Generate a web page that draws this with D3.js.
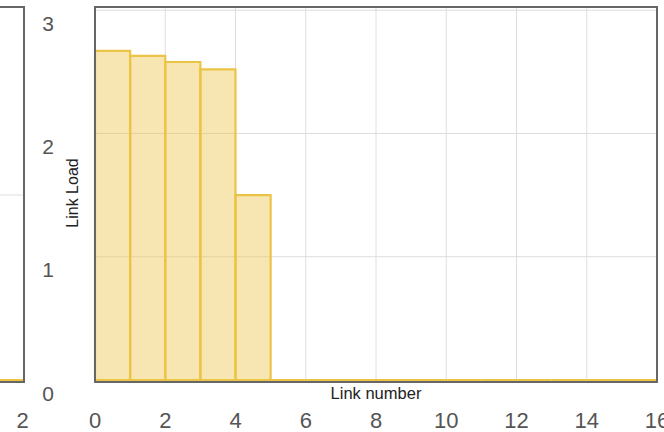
<!DOCTYPE html>
<html>
<head>
<meta charset="utf-8">
<script src="https://cdn.jsdelivr.net/npm/d3@7"></script>
<style>
  html, body { margin: 0; padding: 0; background: #fff; }
  svg { display: block; }
  text { font-family: "Liberation Sans", Arial, sans-serif; }
</style>
</head>
<body>
<svg id="chart" width="664" height="432"></svg>
<script>
// Link load per link (main panel)
const links = d3.range(16);
const loads = [2.67, 2.63, 2.58, 2.52, 1.50, 0, 0, 0, 0, 0, 0, 0, 0, 0, 0, 0];
const xTicks = [0, 2, 4, 6, 8, 10, 12, 14, 16];
const yTicks = [0, 1, 2, 3];

// Neighbouring panel (only its right edge is in view)
const leftLinks = [0, 1];
const leftLoads = [0, 0];
const leftXTicks = [2];
const leftYTicks = [1];

const svg = d3.select("#chart");
const barColor = "#ecc445", frameColor = "#666", gridColor = "#dedede";

function panel(opts) {
  const g = svg.append("g");
  const { x, y, data, cats, xt, yt, showY, labelShift } = opts;
  const [x0, x1] = x.range();

  // grid
  g.selectAll(".gx").data(xt).join("line")
    .attr("x1", d => x(d)).attr("x2", d => x(d))
    .attr("y1", 7).attr("y2", 382)
    .attr("stroke", gridColor).attr("stroke-width", 1);
  g.selectAll(".gy").data(yt).join("line")
    .attr("x1", x0).attr("x2", x1)
    .attr("y1", d => y(d)).attr("y2", d => y(d))
    .attr("stroke", gridColor).attr("stroke-width", 1);

  // bars as closed paths so zero-height bars still show their outline
  g.selectAll(".bar").data(cats).join("path")
    .attr("d", (d, i) => {
      const a = x(d), b = x(d + 1), base = y(0), top = y(data[i]);
      return `M${a},${base}V${top}H${b}V${base}Z`;
    })
    .attr("fill", barColor).attr("fill-opacity", 0.42)
    .attr("stroke", barColor).attr("stroke-width", 2.2);

  // frame
  g.append("rect")
    .attr("x", x0).attr("y", 7).attr("width", x1 - x0).attr("height", 375)
    .attr("fill", "none").attr("stroke", frameColor).attr("stroke-width", 2);

  // x tick labels
  g.selectAll(".xl").data(xt).join("text")
    .attr("x", d => x(d) + (labelShift || 0)).attr("y", 427.5)
    .attr("text-anchor", "middle").attr("font-size", 22).attr("fill", "#555")
    .text(d => d);

  if (showY) {
    g.selectAll(".yl").data(yt).join("text")
      .attr("x", 48).attr("y", d => y(d) + 20.5)
      .attr("text-anchor", "middle").attr("font-size", 21).attr("fill", "#555")
      .text(d => d);
  }
  return g;
}

// left (partially visible) panel
const xL = d3.scaleLinear().domain([-14, 2]).range([24 - 560, 24]);
const yL = d3.scaleLinear().domain([0, 2]).range([380, 10]);
panel({ x: xL, y: yL, data: leftLoads, cats: leftLinks, xt: leftXTicks, yt: leftYTicks, showY: false, labelShift: -1.5 });

// main panel
const x = d3.scaleLinear().domain([0, 16]).range([95, 657]);
const y = d3.scaleLinear().domain([0, 3.026]).range([380, 7]);
panel({ x, y, data: loads, cats: links, xt: xTicks, yt: yTicks, showY: true });

// axis titles
svg.append("text")
  .attr("x", 376).attr("y", 399)
  .attr("text-anchor", "middle").attr("font-size", 16.5).attr("fill", "#222")
  .text("Link number");
svg.append("text")
  .attr("transform", "translate(78,193) rotate(-90)")
  .attr("text-anchor", "middle").attr("font-size", 16).attr("fill", "#222")
  .text("Link Load");
</script>
</body>
</html>
